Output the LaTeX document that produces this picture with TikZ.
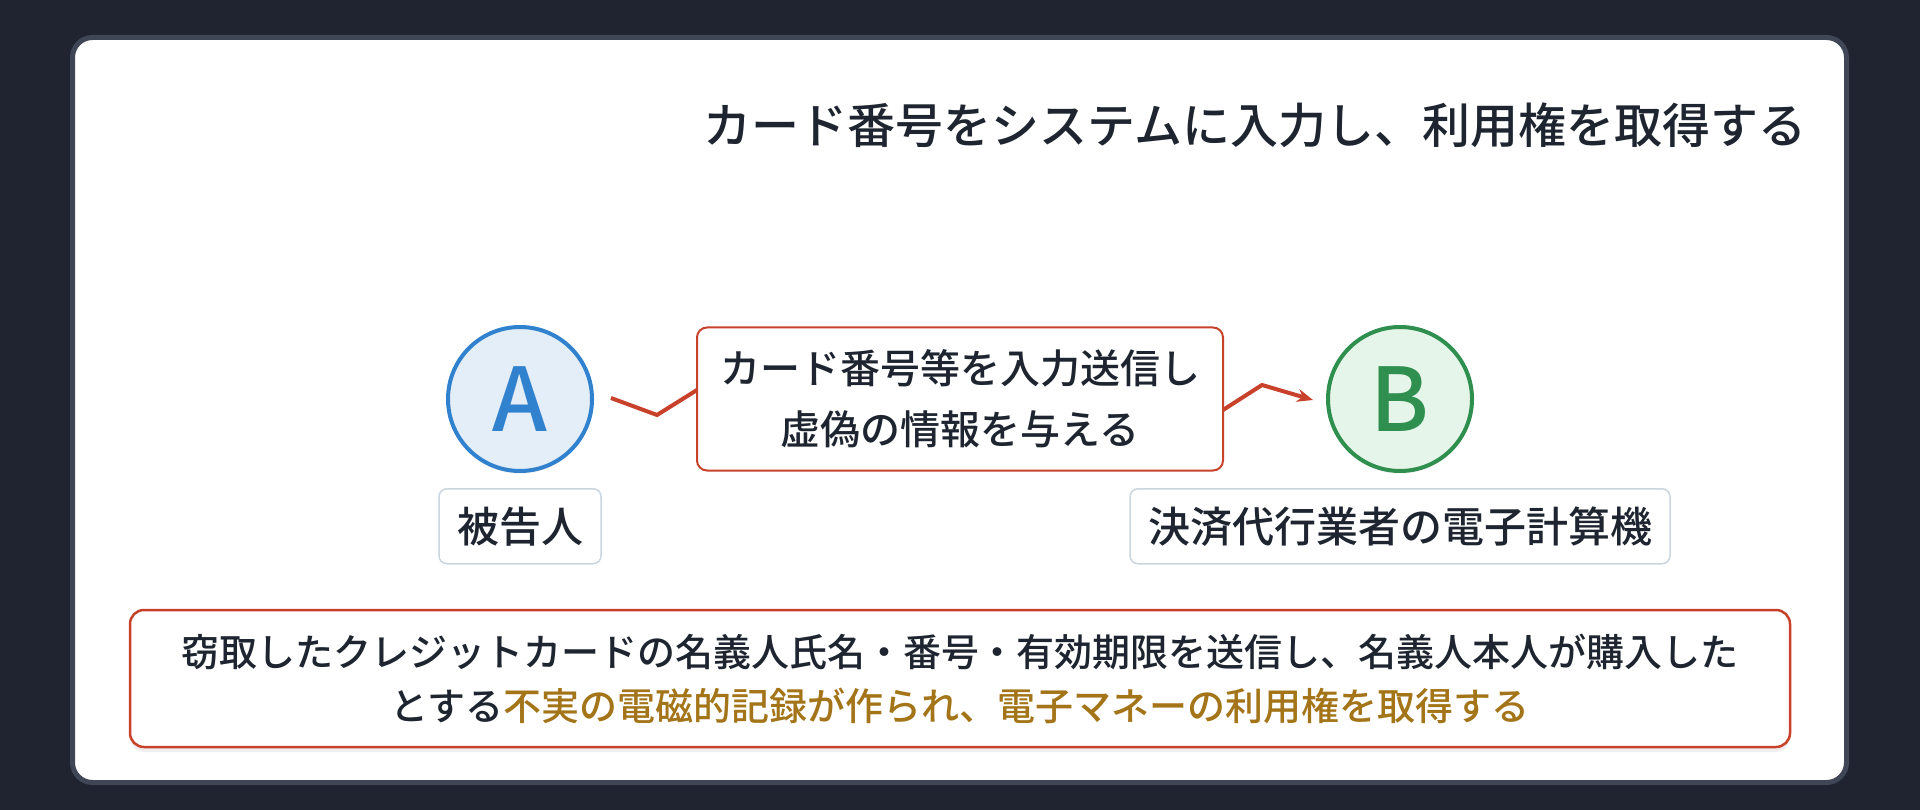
\documentclass[tikz,border=0pt]{standalone}
\usepackage{fontspec}
\setmainfont{Noto Sans CJK JP}[UprightFont={* Medium}]
\usepackage{tikz}
\usetikzlibrary{arrows.meta,positioning,calc,shadows}
\definecolor{bgdark}{HTML}{1F2430}
\definecolor{cardedge}{HTML}{3F4756}
\definecolor{inkdark}{HTML}{1E2530}
\definecolor{linkred}{HTML}{C8412B}
\definecolor{gold}{HTML}{A37418}
\definecolor{blueA}{HTML}{3182CE}
\definecolor{blueAfill}{HTML}{E4EEF9}
\definecolor{greenB}{HTML}{2F8F4F}
\definecolor{greenBfill}{HTML}{E5F5E9}
\definecolor{tagedge}{HTML}{CBD5E0}
\tikzstyle{party}=[draw,circle,line width=4pt,minimum size=144pt,inner sep=0pt,font=\fontsize{88}{88}\selectfont]
\tikzstyle{tag}=[draw=tagedge,fill=white,rounded corners=8pt,line width=1.5pt,minimum height=75pt,inner xsep=18pt,font=\fontsize{42}{50}\selectfont,text=inkdark]
\tikzstyle{act}=[draw=linkred,fill=white,rounded corners=10pt,line width=2pt,minimum width=526pt,minimum height=143pt,align=center,font=\fontsize{40}{61}\selectfont,text=inkdark]
\tikzstyle{note}=[draw=linkred,fill=white,rounded corners=14pt,line width=2.5pt,minimum width=1660pt,minimum height=137pt,align=center,font=\fontsize{38}{54}\selectfont,text=inkdark,drop shadow={shadow xshift=0pt,shadow yshift=-5pt,opacity=0.12}]
\tikzstyle{link}=[linkred,line width=4pt,-{Stealth[length=16pt,width=13pt]}]

\begin{document}
\begin{tikzpicture}[x=1pt,y=-1pt]
\useasboundingbox (0,0) rectangle (1920,810);
\fill[bgdark] (0,0) rectangle (1920,810);
\draw[cardedge,fill=white,line width=5pt,rounded corners=20pt] (72.5,37.5) rectangle (1846.5,782.5);

\node[anchor=east,font=\fontsize{48}{48}\selectfont,text=inkdark] (title) at (1810,125) {カード番号をシステムに入力し、利用権を取得する};

\node[party,draw=blueA,fill=blueAfill,text=blueA,drop shadow={opacity=0.08,shadow yshift=-3pt,shadow xshift=0pt}] (A) at (520,399) {A};
\node[party,draw=greenB,fill=greenBfill,text=greenB,drop shadow={opacity=0.08,shadow yshift=-3pt,shadow xshift=0pt}] (B) at (1400,399) {B};
\node[tag,below=15pt of A] (defendant) {被告人};
\node[tag,below=15pt of B] (computer) {決済代行業者の電子計算機};

% zigzag link, the middle part runs under the box
\coordinate (zig1) at (657,415);
\coordinate (zig2) at (737,365);
\coordinate (zig3) at (1184,435);
\coordinate (zig4) at (1262,385);
\draw[link] ($(A.east)+(17,-1)$) -- (zig1) -- (zig2) -- (zig3) -- (zig4) -- ($(B.west)+(-13,1)$);

\node[act] (input) at ($(A)!0.5!(B)$) {カード番号等を入力送信し\\虚偽の情報を与える};

\node[note] (summary) at (960,678.5) {窃取したクレジットカードの名義人氏名・番号・有効期限を送信し、名義人本人が購入した\\とする\textcolor{gold}{不実の電磁的記録が作られ、電子マネーの利用権を取得する}};
\end{tikzpicture}
\end{document}
